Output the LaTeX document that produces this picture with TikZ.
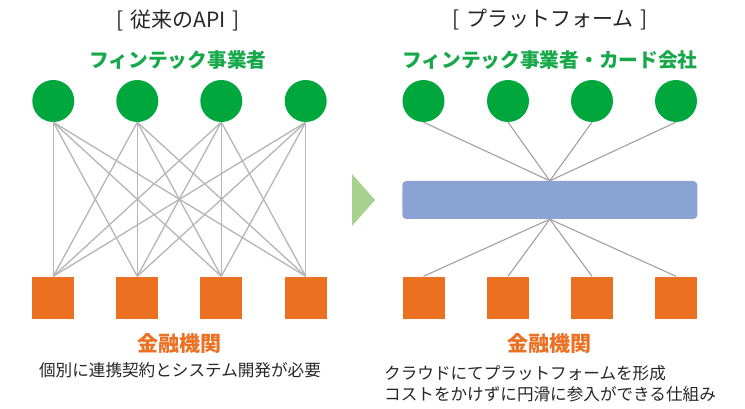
\documentclass[tikz,border=0pt]{standalone}
\usepackage{fontspec}
\setmainfont{Noto Sans CJK JP}
\definecolor{cgreen}{HTML}{00A73C}
\definecolor{tgreen}{HTML}{17A84A}
\definecolor{corange}{HTML}{EC7022}
\definecolor{cblue}{HTML}{8BA3D4}
\definecolor{lgray}{HTML}{B5B5B5}
\definecolor{dgray}{HTML}{A0A0A0}
\definecolor{ctext}{HTML}{262626}
\definecolor{arrowg}{HTML}{A9D18E}
\begin{document}
\begin{tikzpicture}[x=1pt,y=-1pt,
  fin/.style={circle,fill=cgreen,minimum size=42pt,inner sep=0pt},
  bank/.style={rectangle,fill=corange,minimum size=42pt,inner sep=0pt},
  title/.style={text=ctext,font=\fontsize{21}{24}\selectfont,inner sep=0pt},
  glabel/.style={text=tgreen,font=\fontsize{19.7}{22}\selectfont\bfseries,inner sep=0pt},
  olabel/.style={text=corange,font=\fontsize{21}{24}\selectfont\bfseries,inner sep=0pt},
  note/.style={text=ctext,font=\fontsize{16.6}{20}\selectfont,inner sep=0pt},
  lline/.style={lgray,line width=1.3pt},
  rline/.style={dgray,line width=1.1pt}]
\useasboundingbox (0,0) rectangle (745,409);
% titles
\node[title] (t1) at (178,20) {[\,\,従来のAPI\,\,]};
\node[title] (t2) at (550,20) {[\,\,プラットフォーム\,\,]};
\node[glabel] (g1) at (178,60) {フィンテック事業者};
\node[glabel] (g2) at (550,60) {フィンテック事業者・カード会社};
% left side
\foreach \i/\x in {1/53.3,2/137.3,3/221.3,4/305.7}{
  \node[fin] (lc\i) at (\x,101) {};
  \node[bank] (ls\i) at (\x,297.5) {};
}
\foreach \i in {1,...,4}{
  \foreach \j in {1,...,4}{
    \draw[lline] (lc\i.south) -- (ls\j.north);
  }
}
% right side
\node[rectangle,fill=cblue,rounded corners=4pt,minimum width=295pt,minimum height=38pt,inner sep=0pt] (bar) at (549.8,200) {};
\foreach \i/\x in {1/423.5,2/508,3/592,4/676}{
  \node[fin] (rc\i) at (\x,101) {};
  \node[bank] (rs\i) at (\x,297.5) {};
  \draw[rline] (rc\i.south) -- (bar.north);
  \draw[rline] (bar.south) -- (rs\i.north);
}
% arrow
\fill[arrowg] (352,174) -- (375,200) -- (352,226) -- cycle;
% bottom labels
\node[olabel] (o1) at (179,343) {金融機関};
\node[olabel] (o2) at (549.5,343) {金融機関};
\node[note] (n1) at (180,370) {個別に連携契約とシステム開発が必要};
\node[note,anchor=west] (n2) at (384,373) {クラウドにてプラットフォームを形成};
\node[note,anchor=west] (n3) at (384,394) {コストをかけずに円滑に参入ができる仕組み};
\end{tikzpicture}
\end{document}
